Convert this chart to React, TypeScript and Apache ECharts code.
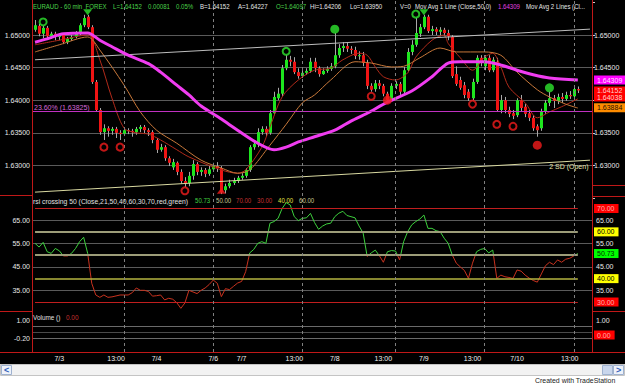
import React, { useEffect, useRef } from "react";
import * as echarts from "echarts";

const FONT = '"Liberation Sans", Arial, Helvetica, sans-serif';
const T = "rgba(0,0,0,0)";

// ---- x slots / time labels ----
const SLOTS = 138;
const slotCategories: string[] = Array.from({ length: SLOTS }, (_, i) => String(i));
const timeTickIndex = [6, 20, 30, 44, 51, 64, 74, 86, 96, 108, 119, 132];
const timeTickLabels = ["7/3", "13:00", "7/4", "7/6", "7/7", "13:00", "7/8", "13:00", "7/9", "13:00", "7/10", "13:00"];
const dashedGridIndex = [22, 44, 66, 89, 111, 133];

// ---- price candles: [open, close, low, high] ----
const candles: number[][] = [
  [1.6508, 1.6515, 1.6505, 1.6523], [1.6514, 1.6502, 1.6498, 1.6517], [1.6502, 1.6511, 1.6495, 1.6514], [1.6511, 1.6498, 1.6495, 1.6514], [1.6498, 1.6502, 1.6494, 1.6505],
  [1.6502, 1.6497, 1.6492, 1.6505], [1.6497, 1.65, 1.6492, 1.6503], [1.65, 1.6489, 1.6486, 1.6503], [1.6489, 1.6494, 1.6486, 1.6497], [1.6494, 1.6497, 1.6491, 1.65],
  // 10
  [1.6497, 1.6503, 1.6495, 1.6506], [1.6503, 1.6515, 1.65, 1.6518], [1.6515, 1.6526, 1.6512, 1.6531], [1.6528, 1.6512, 1.6509, 1.6531], [1.6512, 1.6428, 1.6425, 1.6515],
  [1.6428, 1.6385, 1.6382, 1.6431], [1.6385, 1.6351, 1.6347, 1.6388], [1.6351, 1.6357, 1.6339, 1.6363], [1.6357, 1.6353, 1.6344, 1.636], [1.6353, 1.6356, 1.6347, 1.6359],
  // 20
  [1.6356, 1.635, 1.6342, 1.6359], [1.635, 1.6348, 1.6339, 1.6354], [1.6348, 1.6354, 1.6345, 1.6357], [1.6354, 1.6353, 1.6348, 1.6357], [1.6353, 1.6351, 1.6344, 1.6356],
  [1.6351, 1.6356, 1.6347, 1.6359], [1.6356, 1.6359, 1.6351, 1.6362], [1.6359, 1.6354, 1.6348, 1.6362], [1.6354, 1.6351, 1.6345, 1.6357], [1.6351, 1.6339, 1.6334, 1.6354],
  // 30
  [1.6339, 1.6324, 1.6319, 1.6342], [1.6324, 1.6328, 1.6321, 1.6333], [1.6328, 1.6311, 1.6307, 1.6331], [1.6311, 1.6304, 1.6299, 1.6314], [1.6297, 1.6305, 1.6293, 1.631],
  [1.6304, 1.629, 1.6285, 1.6306], [1.629, 1.6276, 1.6272, 1.6294], [1.6276, 1.6272, 1.6267, 1.6282], [1.6273, 1.6284, 1.6268, 1.629], [1.6284, 1.6302, 1.6278, 1.6308],
  // 40
  [1.6302, 1.629, 1.6285, 1.6305], [1.629, 1.6293, 1.6284, 1.6297], [1.6293, 1.6287, 1.6282, 1.6296], [1.6287, 1.6294, 1.6284, 1.6299], [1.6294, 1.6299, 1.6291, 1.6304],
  [1.6299, 1.6296, 1.629, 1.6305], [1.6296, 1.6259, 1.6256, 1.6299], [1.6262, 1.6268, 1.6257, 1.6272], [1.6268, 1.6273, 1.6265, 1.6278], [1.6273, 1.6276, 1.627, 1.6281],
  // 50
  [1.6276, 1.6281, 1.6273, 1.6284], [1.6281, 1.6284, 1.6278, 1.6288], [1.6284, 1.6293, 1.6281, 1.6296], [1.6293, 1.6328, 1.629, 1.6331], [1.6328, 1.6333, 1.6324, 1.6339],
  [1.6333, 1.6351, 1.6328, 1.6357], [1.6351, 1.6356, 1.6347, 1.636], [1.6356, 1.635, 1.6345, 1.636], [1.635, 1.638, 1.6347, 1.6385], [1.638, 1.6405, 1.6377, 1.6413],
  // 60
  [1.6403, 1.641, 1.64, 1.6419], [1.641, 1.6449, 1.6406, 1.6454], [1.6449, 1.6462, 1.6446, 1.6469], [1.6462, 1.6459, 1.6452, 1.6468], [1.6459, 1.6443, 1.644, 1.6466],
  [1.6443, 1.6437, 1.6433, 1.6449], [1.6437, 1.6442, 1.6434, 1.6446], [1.6442, 1.6445, 1.6439, 1.6449], [1.6445, 1.6459, 1.6442, 1.6465], [1.6459, 1.6449, 1.6443, 1.6465],
  // 70
  [1.6449, 1.644, 1.6436, 1.6452], [1.644, 1.6445, 1.6439, 1.6449], [1.6445, 1.6448, 1.6442, 1.6452], [1.6448, 1.6452, 1.6445, 1.6457], [1.6452, 1.6469, 1.6449, 1.6503],
  [1.6469, 1.648, 1.6465, 1.6486], [1.648, 1.6483, 1.6474, 1.6489], [1.6483, 1.6479, 1.6474, 1.6488], [1.6479, 1.6477, 1.6471, 1.6483], [1.6477, 1.6468, 1.6463, 1.6482],
  // 80
  [1.6468, 1.6469, 1.6462, 1.6475], [1.6469, 1.6457, 1.6452, 1.6474], [1.6457, 1.6422, 1.6417, 1.6462], [1.6422, 1.6416, 1.6413, 1.6426], [1.6417, 1.6426, 1.6413, 1.6431],
  [1.6426, 1.6422, 1.6417, 1.6431], [1.6422, 1.641, 1.6406, 1.6425], [1.641, 1.64, 1.6397, 1.6413], [1.6402, 1.6422, 1.6399, 1.6426], [1.6422, 1.6425, 1.6417, 1.6429],
  // 90
  [1.6425, 1.6413, 1.6408, 1.6428], [1.6413, 1.6446, 1.641, 1.6451], [1.6446, 1.6474, 1.6443, 1.648], [1.6474, 1.6485, 1.6469, 1.6492], [1.6485, 1.6503, 1.6482, 1.6526],
  [1.6502, 1.6512, 1.6497, 1.6517], [1.6512, 1.6528, 1.6509, 1.6531], [1.6528, 1.6506, 1.6503, 1.6531], [1.6506, 1.6509, 1.65, 1.6514], [1.6509, 1.6505, 1.65, 1.6512],
  // 100
  [1.6505, 1.6508, 1.6498, 1.6512], [1.6508, 1.6503, 1.6498, 1.6511], [1.6503, 1.6498, 1.6492, 1.6508], [1.6497, 1.6437, 1.6434, 1.65], [1.644, 1.6425, 1.6422, 1.6452],
  [1.6431, 1.6419, 1.6416, 1.6436], [1.6423, 1.6408, 1.6403, 1.6428], [1.6413, 1.6403, 1.6399, 1.6417], [1.6403, 1.6428, 1.64, 1.6433], [1.6428, 1.6465, 1.6425, 1.6469],
  // 110
  [1.6465, 1.6457, 1.6452, 1.6469], [1.6452, 1.6465, 1.6446, 1.6469], [1.6465, 1.6446, 1.6443, 1.6469], [1.6446, 1.6462, 1.6443, 1.6466], [1.6459, 1.6385, 1.6382, 1.6465],
  [1.6385, 1.64, 1.638, 1.6408], [1.64, 1.6385, 1.638, 1.6405], [1.6385, 1.6379, 1.6374, 1.639], [1.638, 1.6376, 1.6371, 1.6385], [1.6377, 1.64, 1.6374, 1.6403],
  // 120
  [1.64, 1.6388, 1.6383, 1.6408], [1.639, 1.6379, 1.6374, 1.6394], [1.638, 1.6373, 1.6368, 1.6385], [1.6373, 1.6357, 1.6353, 1.6377], [1.636, 1.6354, 1.6344, 1.6363],
  [1.6357, 1.6382, 1.6353, 1.6387], [1.6382, 1.6396, 1.6379, 1.64], [1.6396, 1.6403, 1.6391, 1.6413], [1.6403, 1.6399, 1.6388, 1.6408], [1.6399, 1.6405, 1.6394, 1.641],
  // 130
  [1.6405, 1.6402, 1.6396, 1.6411], [1.6402, 1.6408, 1.6399, 1.6413], [1.6408, 1.6406, 1.6402, 1.6414], [1.6406, 1.6417, 1.6403, 1.642], [1.6417, 1.6415, 1.6411, 1.6421],
];

// ---- moving averages: [slot, price] ----
const ma50Line: number[][] = [
  [0, 1.6489], [3, 1.6494], [7, 1.6502], [13, 1.6503], [16, 1.6492], [19, 1.6482], [23, 1.6469], [28, 1.6456], [31, 1.6443], [35, 1.6423],
  [38, 1.6408], [41, 1.6391], [46, 1.6371], [50, 1.6354], [55, 1.6334], [59, 1.6324], [62, 1.6328], [65, 1.6336], [69, 1.6344], [74, 1.6354],
  [78, 1.6368], [82, 1.638], [87, 1.6397], [93, 1.6414], [98, 1.6436], [102, 1.6457], [105, 1.6459], [111, 1.6459], [115, 1.6454], [119, 1.6446],
  [123, 1.6439], [127, 1.6434], [134, 1.6431],
];
const maFastLine: number[][] = [
  [0, 1.6485], [6, 1.6492], [13, 1.65], [16, 1.6462], [19, 1.6403], [22, 1.6357], [25, 1.635], [28, 1.6348], [31, 1.6339], [35, 1.6324],
  [38, 1.6313], [46, 1.6293], [50, 1.6288], [52, 1.6293], [56, 1.6328], [58, 1.6359], [61, 1.6405], [65, 1.6431], [69, 1.6446], [73, 1.6449],
  [76, 1.6462], [80, 1.6472], [82, 1.6469], [84, 1.6451], [86, 1.6436], [89, 1.6431], [92, 1.6442], [94, 1.6466], [98, 1.6492], [101, 1.65],
  [102, 1.6487], [105, 1.6465], [108, 1.6446], [111, 1.6466], [113, 1.6472], [115, 1.6451], [117, 1.642], [121, 1.6396], [124, 1.6373], [127, 1.6382],
  [130, 1.639], [134, 1.6402],
];
const maSlowLine: number[][] = [
  [0, 1.6474], [6, 1.6485], [13, 1.6497], [16, 1.6477], [22, 1.6423], [26, 1.6382], [30, 1.6354], [35, 1.6334], [41, 1.6308], [46, 1.6296],
  [50, 1.6288], [53, 1.6293], [58, 1.6331], [62, 1.6363], [66, 1.6396], [69, 1.6408], [73, 1.6431], [79, 1.6459], [83, 1.6457], [88, 1.6451],
  [91, 1.6452], [95, 1.6465], [100, 1.648], [104, 1.6474], [111, 1.6474], [115, 1.6469], [119, 1.6443], [124, 1.6416], [127, 1.6405], [131, 1.6394],
  [134, 1.6388],
];
const upperTrend: number[][] = [[0, 1.6462], [137, 1.6509]];
const lowerTrend: number[][] = [[0, 1.6259], [137, 1.6308]];
const fibLevel = 1.63825;

// ---- last values shown in the right-hand price boxes ----
const lastMa50 = 1.64309;
const lastClose = 1.64152;
const lastMaFast = 1.64038;
const lastMaSlow = 1.63884;

// ---- signal markers: [slot, price] ----
const greenHollow = [[2, 1.652], [62, 1.6475], [94, 1.6532]];
const greenDot = [[74, 1.6509], [127, 1.6419]];
const greenTri = [[13, 1.6535], [96, 1.6535]];
const redHollow = [[17, 1.6328], [21, 1.6328], [37, 1.6261], [83, 1.6406], [108, 1.6394], [114, 1.6363], [118, 1.636]];
const redDot = [[87, 1.64], [124, 1.6331]];
const redTri = [[46, 1.6261]];

// ---- RSI(21) ----
const rsiValues: number[] = [
  55.1, 53.5, 55.5, 51.5, 50.8, 52.9, 51.9, 49.7, 49.7, 50.8,
  52.9, 55.8, 57.7, 50.8, 38.0, 33.0, 32.0, 33.0, 32.0, 32.2,
  32.6, 33.0, 33.0, 33.0, 34.0, 36.0, 35.0, 35.0, 34.5, 32.5,
  32.7, 33.0, 30.9, 31.6, 31.2, 29.7, 27.3, 29.6, 35.0, 34.3,
  33.6, 35.0, 36.0, 37.5, 39.4, 38.0, 32.3, 35.7, 35.3, 36.7,
  38.1, 38.8, 43.0, 51.0, 52.5, 55.1, 55.8, 55.1, 63.7, 64.4,
  65.8, 70.0, 72.5, 71.5, 66.5, 64.8, 65.8, 66.0, 67.9, 64.0,
  61.1, 62.5, 63.4, 63.7, 66.5, 68.0, 68.8, 67.0, 66.5, 66.0,
  62.5, 59.5, 49.5, 51.0, 52.2, 49.8, 47.0, 51.5, 52.0, 51.8,
  48.0, 55.8, 60.1, 63.0, 64.4, 65.5, 67.2, 61.5, 61.5, 60.5,
  60.1, 57.3, 55.1, 50.1, 46.6, 45.0, 43.5, 40.1, 46.6, 51.5,
  52.5, 52.9, 51.0, 52.2, 40.1, 41.5, 40.8, 40.5, 40.1, 43.7,
  43.2, 41.5, 40.2, 39.2, 38.5, 42.0, 45.5, 47.0, 46.0, 48.0,
  47.0, 48.3, 48.7, 49.7, 50.73,
];
const rsiLevels = [70, 60, 50, 40, 30];
const rsiLast = 50.73;
const volumeValues: number[] = candles.map(() => 0);

const UP = "#1ee61e";
const DOWN = "#f01414";
const WICK = "#a8a8a8";
const MAG = "#f03cf0";
const AXIS_TXT = "#e8e8e8";
const RED_FRAME = "#c01818";
const RSI_UP = "#3ccf3c";
const RSI_DN = "#c8321e";

// RSI panel geometry (used for both the grid and the colour split at 50)
const RSI_MIN = 25, RSI_MAX = 80, RSI_TOP = 185.1, RSI_H = 128.6;

function box(v: number, text: string, bg: string, fg: string, pad: number[] = [1, 4, 0, 3], lh = 8) {
  return {
    yAxis: v,
    lineStyle: { color: T, width: 0 },
    label: {
      show: true, position: "end", formatter: text, backgroundColor: bg, color: fg,
      padding: pad, fontSize: 7, lineHeight: lh, fontFamily: FONT, distance: 2,
    },
  };
}

function txt(t: string, x: number, y: number, fill: string, sx = 0.76, size = 8) {
  return {
    type: "text", x, y, scaleX: sx, silent: true, z: 20,
    style: { text: t, fill, fontSize: size, fontFamily: FONT, verticalAlign: "middle" },
  };
}
function hl(x1: number, x2: number, y: number, stroke: string, z = 15) {
  return { type: "line", silent: true, z, shape: { x1, y1: y, x2, y2: y }, style: { stroke, lineWidth: 1 } };
}
function vl(x: number, y1: number, y2: number, stroke: string) {
  return { type: "line", silent: true, z: 15, shape: { x1: x, y1, x2: x, y2 }, style: { stroke, lineWidth: 1 } };
}

const renderCandle = (_p: any, api: any) => {
  const i = api.value(0);
  const o = api.value(1), c = api.value(2), l = api.value(3), h = api.value(4);
  const pO = api.coord([i, o]);
  const pC = api.coord([i, c]);
  const pL = api.coord([i, l]);
  const pH = api.coord([i, h]);
  const x = Math.round(pO[0]) + 0.5;
  const top = Math.min(pO[1], pC[1]);
  const hgt = Math.max(1, Math.abs(pO[1] - pC[1]));
  return {
    type: "group",
    children: [
      { type: "line", shape: { x1: x, y1: pH[1], x2: x, y2: pL[1] }, style: { stroke: WICK, lineWidth: 1 } },
      { type: "rect", shape: { x: x - 1.5, y: top, width: 3, height: hgt }, style: { fill: c >= o ? UP : DOWN } },
    ],
  };
};

export default function App() {
  const ref = useRef<HTMLDivElement>(null);
  useEffect(() => {
    if (!ref.current) return;
    const chart = echarts.init(ref.current, undefined, { renderer: "svg" });
    const G = "#5a5a5a";
    const near = (a: number, b: number) => Math.abs(a - b) < 1e-6;

    const hiddenX = (gi: number) => ({
      type: "category", gridIndex: gi, data: slotCategories, boundaryGap: true, show: false,
    });

    const markerSeries = (data: number[][], symbol: string, size: any, color: string, hollow: boolean, rotate = 0) => ({
      type: "scatter", xAxisIndex: 0, yAxisIndex: 0, data, symbol, symbolSize: size, symbolRotate: rotate, z: 6,
      itemStyle: hollow ? { color: T, borderColor: color, borderWidth: 2 } : { color },
      silent: true,
    });

    const split = (RSI_TOP + ((RSI_MAX - 50) / (RSI_MAX - RSI_MIN)) * RSI_H) / 384;
    const rsiColor = new echarts.graphic.LinearGradient(0, 0, 0, 384, [
      { offset: 0, color: RSI_UP },
      { offset: split, color: RSI_UP },
      { offset: split, color: RSI_DN },
      { offset: 1, color: RSI_DN },
    ], true);

    const option: any = {
      animation: false,
      backgroundColor: "#000",
      grid: [
        { left: 33, right: 33, top: 2.4, height: 195.6 },
        { left: 33, right: 33, top: RSI_TOP, height: RSI_H },
        { left: 33, right: 33, top: 311, height: 39 },
        { left: 33, right: 33, top: 0, height: 352 },
      ],
      xAxis: [
        hiddenX(0), hiddenX(1), hiddenX(2),
        {
          type: "category", gridIndex: 3, data: slotCategories, boundaryGap: true,
          axisLine: { show: false }, axisTick: { show: false }, splitLine: { show: false },
          axisLabel: {
            interval: 0,
            formatter: (v: string) => {
              const k = timeTickIndex.indexOf(Number(v));
              return k >= 0 ? timeTickLabels[k] : "";
            },
            color: "#f0f0f0", fontSize: 7, fontFamily: FONT, margin: 3,
          },
        },
      ],
      yAxis: [
        {
          type: "value", gridIndex: 0, position: "left", min: 1.625, max: 1.655, interval: 0.005,
          axisLine: { show: false }, axisTick: { show: false },
          splitLine: { show: true, lineStyle: { color: [T, G, G, G, G, G, T], width: 1 } },
          axisLabel: {
            color: AXIS_TXT, fontSize: 7, fontFamily: FONT, margin: 3,
            formatter: (v: number) => (v > 1.627 && v < 1.653 ? v.toFixed(5) : ""),
          },
        },
        {
          type: "value", gridIndex: 0, position: "right", min: 1.625, max: 1.655, interval: 0.005,
          axisLine: { show: false }, axisTick: { show: true, length: 3, lineStyle: { color: "#cccccc" } },
          splitLine: { show: false },
          axisLabel: {
            color: AXIS_TXT, fontSize: 7, fontFamily: FONT, margin: 2,
            formatter: (v: number) => (v > 1.627 && v < 1.653 && !near(v, 1.64) ? v.toFixed(5) : ""),
          },
        },
        {
          type: "value", gridIndex: 1, position: "left", min: RSI_MIN, max: RSI_MAX, interval: 5,
          axisLine: { show: false }, axisTick: { show: false },
          splitLine: { show: true, lineStyle: { color: [T, T, G, T, G, T, G, T, G, T, T, T], width: 1 } },
          axisLabel: {
            color: AXIS_TXT, fontSize: 7, fontFamily: FONT, margin: 3,
            formatter: (v: number) => ([35, 45, 55, 65].some((k) => near(k, v)) ? v.toFixed(2) : ""),
          },
        },
        {
          type: "value", gridIndex: 1, position: "right", min: RSI_MIN, max: RSI_MAX, interval: 5,
          axisLine: { show: false }, axisTick: { show: false },
          splitLine: { show: false },
          axisLabel: {
            color: AXIS_TXT, fontSize: 7, fontFamily: FONT, margin: 4,
            formatter: (v: number) => ([35, 45, 55, 65].some((k) => near(k, v)) ? v.toFixed(2) : ""),
          },
        },
        {
          type: "value", gridIndex: 2, position: "left", min: -1, max: 1.6, interval: 0.2,
          axisLine: { show: false }, axisTick: { show: false },
          splitLine: { show: true, lineStyle: { color: [T, T, T, T, "#6a6a6a", T, "#4a4a4a", T, "#6a6a6a", T, T, T, T, T], width: 1 } },
          axisLabel: {
            color: AXIS_TXT, fontSize: 7, fontFamily: FONT, margin: 3,
            formatter: (v: number) => (near(v, 1) ? "1.00" : near(v, -0.2) ? "-0.20" : ""),
          },
        },
        {
          type: "value", gridIndex: 2, position: "right", min: -1, max: 1.6, interval: 0.2,
          axisLine: { show: false }, axisTick: { show: false },
          splitLine: { show: false },
          axisLabel: {
            color: AXIS_TXT, fontSize: 7, fontFamily: FONT, margin: 4,
            formatter: (v: number) => (near(v, 1) ? "1.00" : ""),
          },
        },
        { type: "value", gridIndex: 3, show: false, min: 0, max: 1 },
      ],
      series: [
        {
          type: "custom", xAxisIndex: 0, yAxisIndex: 0, renderItem: renderCandle, z: 2,
          data: candles.map((c, i) => [i, c[0], c[1], c[2], c[3]]),
          encode: { x: 0, y: [1, 2, 3, 4] }, silent: true,
        },
        {
          type: "line", xAxisIndex: 0, yAxisIndex: 0, data: ma50Line, showSymbol: false, smooth: 0.3,
          lineStyle: { color: MAG, width: 3 }, z: 4, silent: true,
          markLine: {
            silent: true, symbol: ["none", "none"], animation: false, precision: 5,
            data: [
              {
                yAxis: fibLevel, lineStyle: { color: "#c030c0", width: 1, type: "solid" },
                label: { show: true, position: "insideStartTop", formatter: "23.60% (1.63825)", color: "#d668d6", fontSize: 7, fontFamily: FONT, distance: 1 },
              },
              box(lastMa50, lastMa50.toFixed(5), "#ff00ff", "#ffe0ff", [1, 4, 1, 3], 7),
              box(lastClose, lastClose.toFixed(5), "#ff0000", "#ffd0d0", [1, 4, 0, 3], 6.4),
              box(lastMaFast, lastMaFast.toFixed(5), "#ff0000", "#ffd0d0", [0, 4, 1, 3], 6.4),
              box(lastMaSlow, lastMaSlow.toFixed(5), "#ff8c00", "#2a1000", [1, 4, 1, 3], 7),
            ],
          },
        },
        {
          type: "line", xAxisIndex: 0, yAxisIndex: 0, data: maFastLine, showSymbol: false, smooth: 0.3,
          lineStyle: { color: "#b02a1a", width: 1 }, z: 3, silent: true,
        },
        {
          type: "line", xAxisIndex: 0, yAxisIndex: 0, data: maSlowLine, showSymbol: false, smooth: 0.3,
          lineStyle: { color: "#c8783a", width: 1 }, z: 3, silent: true,
        },
        {
          type: "line", xAxisIndex: 0, yAxisIndex: 0, data: upperTrend, showSymbol: false,
          lineStyle: { color: "#bdbdbd", width: 1 }, z: 3, silent: true,
        },
        {
          type: "line", xAxisIndex: 0, yAxisIndex: 0, data: lowerTrend, showSymbol: false,
          lineStyle: { color: "#d8d8a0", width: 1 }, z: 3, silent: true,
          markPoint: {
            silent: true, animation: false,
            data: [
              {
                coord: lowerTrend[1], symbol: "rect", symbolSize: [1, 1], itemStyle: { color: T },
                label: { show: true, position: "left", distance: 1, offset: [0, 6], formatter: "2 SD (Open)", color: "#e6e6b0", fontSize: 7, fontFamily: FONT },
              },
            ],
          },
        },
        markerSeries(greenHollow, "circle", 7, "#2ee62e", true),
        markerSeries(greenDot, "circle", 9, "#2ee62e", false),
        markerSeries(greenTri, "triangle", [9, 6], "#2ee62e", false, 180),
        markerSeries(redHollow, "circle", 7, "#f01c1c", true),
        markerSeries(redDot, "circle", 9, "#f01c1c", false),
        markerSeries(redTri, "triangle", [9, 6], "#f01c1c", false),
        {
          type: "line", xAxisIndex: 1, yAxisIndex: 2, data: rsiValues, showSymbol: false,
          lineStyle: { width: 1, color: rsiColor }, z: 4, silent: true,
          markLine: {
            silent: true, symbol: ["none", "none"], animation: false, precision: 2,
            data: [
              ...rsiLevels.map((v) => {
                const st =
                  v === 70 || v === 30 ? { color: "#c01e1e", width: 1, type: "solid" }
                    : v === 40 ? { color: "#b4b440", width: 1.5, type: "solid" }
                      : { color: "#9c9c78", width: 2, type: "solid" };
                return [
                  { coord: [0, v], lineStyle: st, label: { show: false } },
                  { coord: [rsiValues.length - 1, v], lineStyle: st },
                ];
              }),
              box(70, "70.00", "#ff0000", "#ffb0b0"),
              box(60, "60.00", "#ffff00", "#000000"),
              box(rsiLast, rsiLast.toFixed(2), "#00ff00", "#003000"),
              box(40, "40.00", "#ffff00", "#000000"),
              box(30, "30.00", "#ff0000", "#ffb0b0"),
            ],
          },
        },
        {
          type: "line", xAxisIndex: 2, yAxisIndex: 4, data: volumeValues, showSymbol: false,
          lineStyle: { color: T, width: 0 }, silent: true,
          markLine: {
            silent: true, symbol: ["none", "none"], animation: false,
            data: [box(0, "0.00", "#ff0000", "#ffb0b0")],
          },
        },
        {
          type: "line", xAxisIndex: 3, yAxisIndex: 6, data: [[0, 0]], showSymbol: false,
          lineStyle: { color: T, width: 0 }, silent: true, z: 1,
          markLine: {
            silent: true, symbol: ["none", "none"], animation: false,
            label: { show: false },
            lineStyle: { color: "#808080", width: 1, type: [3, 3] },
            data: dashedGridIndex.map((k) => ({ xAxis: k })),
          },
        },
      ],
      graphic: [
        // frame
        vl(32.5, 0, 352, RED_FRAME),
        vl(592.5, 0, 352, RED_FRAME),
        hl(0, 625, 352.5, RED_FRAME),
        hl(0, 32, 195.5, RED_FRAME),
        hl(0, 32, 311.5, RED_FRAME),
        hl(593, 625, 185.5, RED_FRAME),
        hl(593, 625, 196.5, RED_FRAME),
        hl(593, 625, 311.5, RED_FRAME),
        // header
        txt("EURAUD - 60 min  FOREX", 33, 7, "#4ad24a"),
        txt("L=1.64152", 113, 7, "#4ad24a"),
        txt("0.00081", 148, 7, "#4ad24a"),
        txt("0.05%", 176, 7, "#4ad24a"),
        txt("B=1.64152", 200, 7, "#e6e6e6"),
        txt("A=1.64227", 238, 7, "#e6e6e6"),
        txt("O=1.64097", 276, 7, "#4ad24a"),
        txt("Hi=1.64206", 310, 7, "#e6e6e6"),
        txt("Lo=1.63950", 350, 7, "#e6e6e6"),
        txt("V=0", 400, 7, "#e6e6e6"),
        txt("Mov Avg 1 Line (Close,50,0)", 415, 7, "#e6e6e6"),
        txt("1.64309", 498, 7, "#e040e0"),
        txt("Mov Avg 2 Lines (Cl...", 526, 7, "#e6e6e6"),
        // rsi header
        txt("rsi crossing 50 (Close,21,50,40,60,30,70,red,green)", 33, 201, "#e0e0e0", 0.85),
        txt("50.73", 195, 201, "#40d040", 0.76),
        txt("50.00", 216, 201, "#c8c890", 0.76),
        txt("70.00", 236, 201, "#c83030", 0.76),
        txt("30.00", 257, 201, "#c83030", 0.76),
        txt("40.00", 278, 201, "#e0e040", 0.76),
        txt("60.00", 299, 201, "#c8c890", 0.76),
        // volume header
        txt("Volume ()", 33, 317, "#e0e0e0", 0.8),
        txt("0.00", 66, 317, "#c83030", 0.8),
        // bottom area
        { type: "rect", z: 30, silent: true, shape: { x: 0, y: 364, width: 625, height: 20 }, style: { fill: "#ffffff" } },
        { type: "rect", z: 31, silent: true, shape: { x: 0.5, y: 364.5, width: 624, height: 11 }, style: { fill: "#f2f2f2", stroke: "#c4c4c4", lineWidth: 1 } },
        { type: "rect", z: 32, silent: true, shape: { x: 1.5, y: 365.5, width: 10, height: 9 }, style: { fill: "#eef2fa", stroke: "#9fb2d0", lineWidth: 1 } },
        { type: "rect", z: 32, silent: true, shape: { x: 602.5, y: 365.5, width: 10, height: 9 }, style: { fill: "#c9d6ec", stroke: "#9fb2d0", lineWidth: 1 } },
        { type: "rect", z: 32, silent: true, shape: { x: 613.5, y: 365.5, width: 10, height: 9 }, style: { fill: "#eef2fa", stroke: "#9fb2d0", lineWidth: 1 } },
        { type: "text", z: 33, silent: true, x: 4, y: 370, style: { text: "<", fill: "#2b5bb8", fontSize: 9, fontWeight: "bold", fontFamily: FONT, verticalAlign: "middle" } },
        { type: "text", z: 33, silent: true, x: 616, y: 370, style: { text: ">", fill: "#2b5bb8", fontSize: 9, fontWeight: "bold", fontFamily: FONT, verticalAlign: "middle" } },
        { type: "text", z: 33, silent: true, x: 535, y: 380, scaleX: 0.87, style: { text: "Created with TradeStation", fill: "#222222", fontSize: 8, fontFamily: FONT, verticalAlign: "middle" } },
      ],
    };
    chart.setOption(option);
    return () => chart.dispose();
  }, []);
  return <div ref={ref} style={{ position: "fixed", left: 0, top: 0, width: 625, height: 384 }} />;
}
